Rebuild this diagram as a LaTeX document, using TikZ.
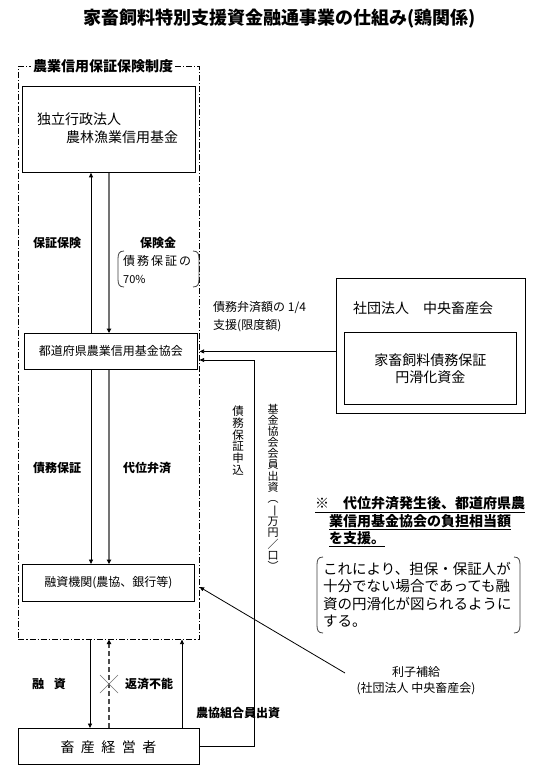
\documentclass[tikz,border=0pt]{standalone}
\usepackage{fontspec}
\setmainfont{Noto Sans CJK JP}
\usepackage{graphicx}
\usetikzlibrary{arrows.meta}
\tikzset{
  box/.style={draw, line width=0.8pt, inner sep=0pt, anchor=north west},
  txt/.style={inner sep=0pt, font=\fontsize{12}{14}\selectfont},
  btxt/.style={inner sep=0pt, font=\fontsize{12}{14}\selectfont\bfseries},
  bigtxt/.style={inner sep=0pt, font=\fontsize{14}{17}\selectfont},
  vtxt/.style={inner sep=0pt, align=center, anchor=north},
  arr/.style={line width=0.8pt, -{Triangle[length=4.5pt,width=4pt]}},
  grayarr/.style={line width=1.8pt, draw=black!55, -{Triangle[length=4.5pt,width=4.5pt,color=black]}},
  dasharr/.style={line width=1.2pt, dash pattern=on 5pt off 3pt, draw=black!70, -{Triangle[length=4.5pt,width=4.5pt,color=black]}},
  frm/.style={draw, line width=0.6pt, dash pattern=on 6pt off 2pt on 1.2pt off 2pt, inner sep=0pt, anchor=north west},
  brk/.style={draw=black!75, line width=0.8pt},
}
\newcommand{\lbrk}[3]{\draw[brk] (#1+6,#2) .. controls (#1+1,#2) and (#1,#2+3) .. (#1,#2+8) -- (#1,#3-8) .. controls (#1,#3-3) and (#1+1,#3) .. (#1+6,#3);}
\newcommand{\rbrk}[3]{\draw[brk] (#1-6,#2) .. controls (#1-1,#2) and (#1,#2+3) .. (#1,#2+8) -- (#1,#3-8) .. controls (#1,#3-3) and (#1-1,#3) .. (#1-6,#3);}
\begin{document}
\begin{tikzpicture}[x=1pt,y=-1pt]
\useasboundingbox[fill=white] (0,0) rectangle (552,778);

% title
\node[inner sep=0pt, font=\fontsize{18}{20}\selectfont\bfseries] (title) at (279.5,19) {家畜飼料特別支援資金融通事業の仕組み(鶏関係)};

% frame
\node[frm, minimum width=181pt, minimum height=573pt] (frame) at (18,66) {};
\node[inner xsep=2pt, inner ysep=0pt, fill=white, anchor=west, font=\fontsize{14}{16}\selectfont\bfseries] (frmlabel) at (31,66) {農業信用保証保険制度};

% boxes
\node[box, minimum width=173pt, minimum height=86pt] (fund) at (22,86) {};
\node[bigtxt, anchor=west] (fundA) at (37,119) {独立行政法人};
\node[bigtxt, anchor=west] (fundB) at (66,137) {農林漁業信用基金};

\node[box, minimum width=173pt, minimum height=36pt] (assoc) at (24,333) {};
\node[txt] (assocT) at (assoc.center) {都道府県農業信用基金協会};

\node[box, minimum width=172pt, minimum height=37pt] (fin) at (22,564) {};
\node[txt] (finT) at (fin.center) {融資機関(農協、銀行等)};

\node[box, minimum width=181pt, minimum height=36pt] (farmer) at (18,728) {};
\node[bigtxt] (farmerT) at (108.5,747) {畜\hspace{6.5pt}産\hspace{6.5pt}経\hspace{6.5pt}営\hspace{6.5pt}者};

\node[box, minimum width=189pt, minimum height=135pt] (chuo) at (336,278) {};
\node[bigtxt, anchor=west] (chuoT) at (353,308) {社団法人　中央畜産会};
\node[box, minimum width=172pt, minimum height=72pt] (smooth) at (344,332) {};
\node[bigtxt, align=center, font=\fontsize{14}{17}\selectfont] (smoothT) at (smooth.center) {家畜飼料債務保証\\円滑化資金};

% helper coordinates
\coordinate (xL) at (91,0);
\coordinate (xR) at (109,0);
\coordinate (xB1) at (90,0);
\coordinate (xB2) at (109,0);
\coordinate (xB3) at (182,0);
\coordinate (xV) at (254,0);
\coordinate (kaiin) at (0,360);
\coordinate (rishiend) at (345,673);

% arrows upper
\draw[arr] (assoc.north -| xL) -- (fund.south -| xL);
\draw[grayarr] (fund.south -| xR) -- (assoc.north -| xR);
\draw[arr] (assoc.south -| xL) -- (fin.north -| xL);
\draw[grayarr] (assoc.south -| xR) -- (fin.north -| xR);

% arrows right
\draw[arr] (chuo.west |- assoc.center) -- (frame.east |- assoc.center);
\draw[arr] (farmer.east) -| (xV |- kaiin) -- (frame.east |- kaiin);
\draw[arr] (rishiend) -- (frame.east |- 0,587);

% arrows bottom
\draw[arr] (frame.south -| xB1) -- (farmer.north -| xB1);
\draw[dasharr] (farmer.north -| xB2) -- (frame.south -| xB2);
\draw[arr] (farmer.north -| xB3) -- (frame.south -| xB3);
\draw[black!55, line width=0.6pt] (100,675) -- (118,693) (100,693) -- (118,675);

% labels
\node[btxt] (hoshoL) at (57,243) {保証保険};
\node[btxt] (hokenL) at (158,243) {保険金};
\node[txt, anchor=west, align=left, font=\fontsize{12}{18}\selectfont] (seventy) at (123,270) {債\,務\,保\,証\,の\\{\fontsize{11}{18}\selectfont 70\%}};
\lbrk{118}{251}{287}
\rbrk{199}{251}{287}

\node[btxt] (saimuL) at (57,468) {債務保証};
\node[btxt] (daiiL) at (147,468) {代位弁済};

\node[txt, anchor=west, align=left, font=\fontsize{12}{18}\selectfont] (shienL) at (213,317) {債務弁済額の 1/4\\支援(限度額)};

\node[vtxt, font=\fontsize{11.5}{11.7}\selectfont] (moshikomi) at (238,406) {債\\務\\保\\証\\申\\込};
\node[vtxt, font=\fontsize{11}{11.1}\selectfont] (shusshi) at (273,404) {基\\金\\協\\会\\会\\員\\出\\資\\︵\\\rotatebox[origin=c]{-90}{一}\\万\\円\\／\\口\\︶};

\node[btxt] (yushiL) at (49,684) {融\hspace{10pt}資};
\node[btxt] (henL) at (149,684) {返済不能};
\node[btxt] (nokyoL) at (238,713) {農協組合員出資};

\node[txt, align=center, font=\fontsize{12}{16}\selectfont] (rishi) at (416,681) {利子補給\\(社団法人 中央畜産会)};

% note
\node[inner sep=0pt, anchor=west, align=left, font=\fontsize{14}{17.5}\selectfont\bfseries] (note) at (315,522) {\underline{※　代位弁済発生後、都道府県農}\\\hspace*{14pt}\underline{業信用基金協会の負担相当額}\\\hspace*{14pt}\underline{を支援。}};
\node[inner sep=0pt, anchor=west, align=left, font=\fontsize{14.5}{17.4}\selectfont] (effect) at (323,595) {これにより、担保・保証人が\\十分でない場合であっても融\\資の円滑化が図られるように\\する。};
\lbrk{317}{557}{633}
\rbrk{520}{557}{633}
\end{tikzpicture}
\end{document}
